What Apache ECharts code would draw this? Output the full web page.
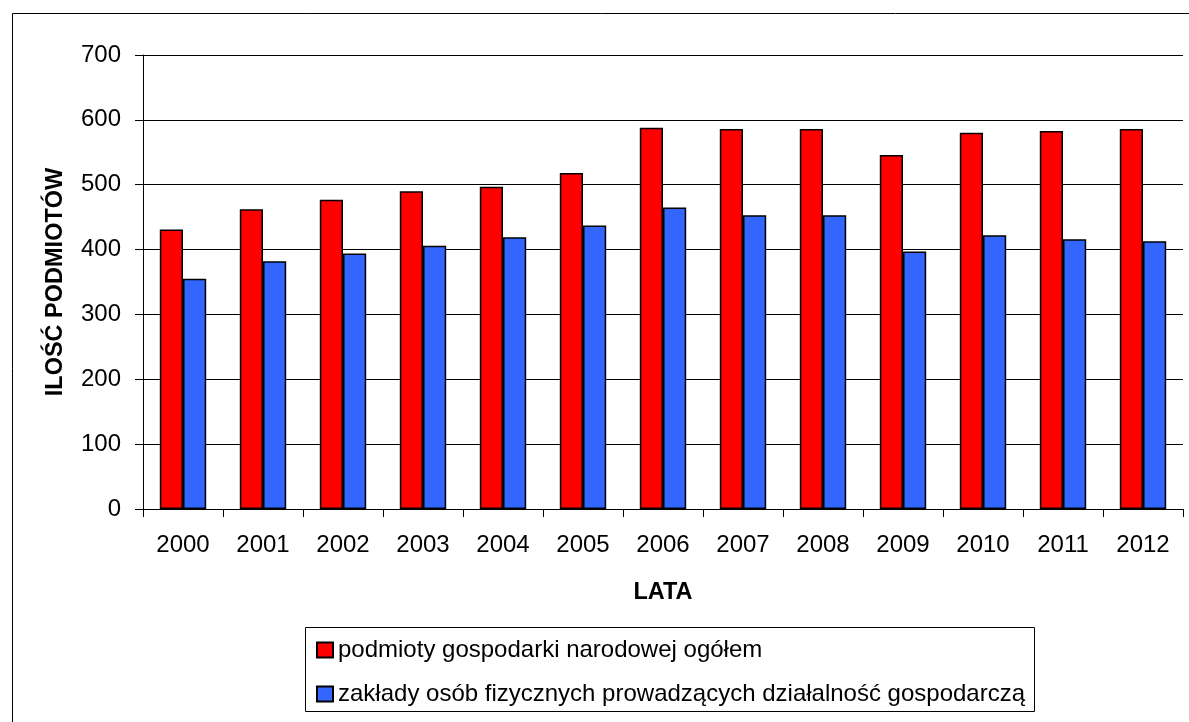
<!DOCTYPE html>
<html>
<head>
<meta charset="utf-8">
<script src="https://cdn.jsdelivr.net/npm/echarts@6/dist/echarts.min.js"></script>
<style>
  html, body { margin: 0; padding: 0; background: #fff; }
  #chart { width: 1189px; height: 722px; }
</style>
</head>
<body>
<div id="chart"></div>
<script>
// Years on the category axis
const years = ['2000', '2001', '2002', '2003', '2004', '2005', '2006', '2007', '2008', '2009', '2010', '2011', '2012'];

// Series values
const podmiotyOgolem = [431, 462, 477, 490, 497, 518, 588, 586, 586, 546, 580, 583, 586];
const zakladyOsobFizycznych = [355, 382, 394, 406, 419, 437, 465, 453, 453, 397, 422, 416, 413];

// Series names (legend)
const seriesNames = [
  'podmioty gospodarki narodowej ogółem',
  'zakłady osób fizycznych prowadzących działalność gospodarczą'
];

// Axis titles
const xTitle = 'LATA';
const yTitle = 'ILOŚĆ PODMIOTÓW';

const FONT = 'Liberation Sans, Arial, sans-serif';

const chart = echarts.init(document.getElementById('chart'), null, { renderer: 'canvas' });

const barBorder = { borderColor: '#000', borderWidth: 1.5 };

chart.setOption({
  backgroundColor: '#fff',
  animation: false,
  textStyle: { fontFamily: FONT, color: '#000' },
  graphic: [
    {
      // outer frame of the chart
      type: 'rect',
      shape: { x: 12.5, y: 13.5, width: 1200, height: 720 },
      style: { fill: 'none', stroke: '#000', lineWidth: 1 },
      silent: true
    },
    {
      // legend frame
      type: 'rect',
      shape: { x: 305.5, y: 627.5, width: 729, height: 84 },
      style: { fill: 'none', stroke: '#000', lineWidth: 1 },
      silent: true
    }
  ],
  grid: { left: 143, right: 6, top: 55, bottom: 213, containLabel: false },
  legend: {
    orient: 'vertical',
    left: 316,
    top: 638,
    padding: 0,
    itemWidth: 16,
    itemHeight: 15,
    itemGap: 20,
    icon: 'rect',
    textStyle: { fontFamily: FONT, fontSize: 24, lineHeight: 24, color: '#000' },
    data: seriesNames
  },
  xAxis: {
    type: 'category',
    data: years,
    boundaryGap: true,
    name: xTitle,
    nameLocation: 'middle',
    nameGap: 72,
    nameTextStyle: { fontFamily: FONT, fontSize: 23.5, fontWeight: 'bold', color: '#000', verticalAlign: 'top' },
    axisLine: { show: true, lineStyle: { color: '#000', width: 1 } },
    axisTick: { show: true, length: 8, alignWithLabel: false, lineStyle: { color: '#000' } },
    axisLabel: { fontFamily: FONT, fontSize: 24, color: '#000', margin: 24 },
    splitLine: { show: false }
  },
  yAxis: {
    type: 'value',
    min: 0,
    max: 700,
    interval: 100,
    name: yTitle,
    nameLocation: 'middle',
    nameGap: 75,
    nameTextStyle: { fontFamily: FONT, fontSize: 23.5, fontWeight: 'bold', color: '#000' },
    axisLine: { show: true, lineStyle: { color: '#000', width: 1 } },
    axisTick: { show: true, length: 8, lineStyle: { color: '#000' } },
    axisLabel: { fontFamily: FONT, fontSize: 24, color: '#000', margin: 22 },
    splitLine: { show: true, lineStyle: { color: '#000', width: 1 } }
  },
  series: [
    {
      name: seriesNames[0],
      type: 'bar',
      data: podmiotyOgolem,
      barGap: '0%',
      barCategoryGap: '42%',
      itemStyle: Object.assign({ color: '#FF0000' }, barBorder)
    },
    {
      name: seriesNames[1],
      type: 'bar',
      data: zakladyOsobFizycznych,
      itemStyle: Object.assign({ color: '#3366FF' }, barBorder)
    }
  ]
});
</script>
</body>
</html>
